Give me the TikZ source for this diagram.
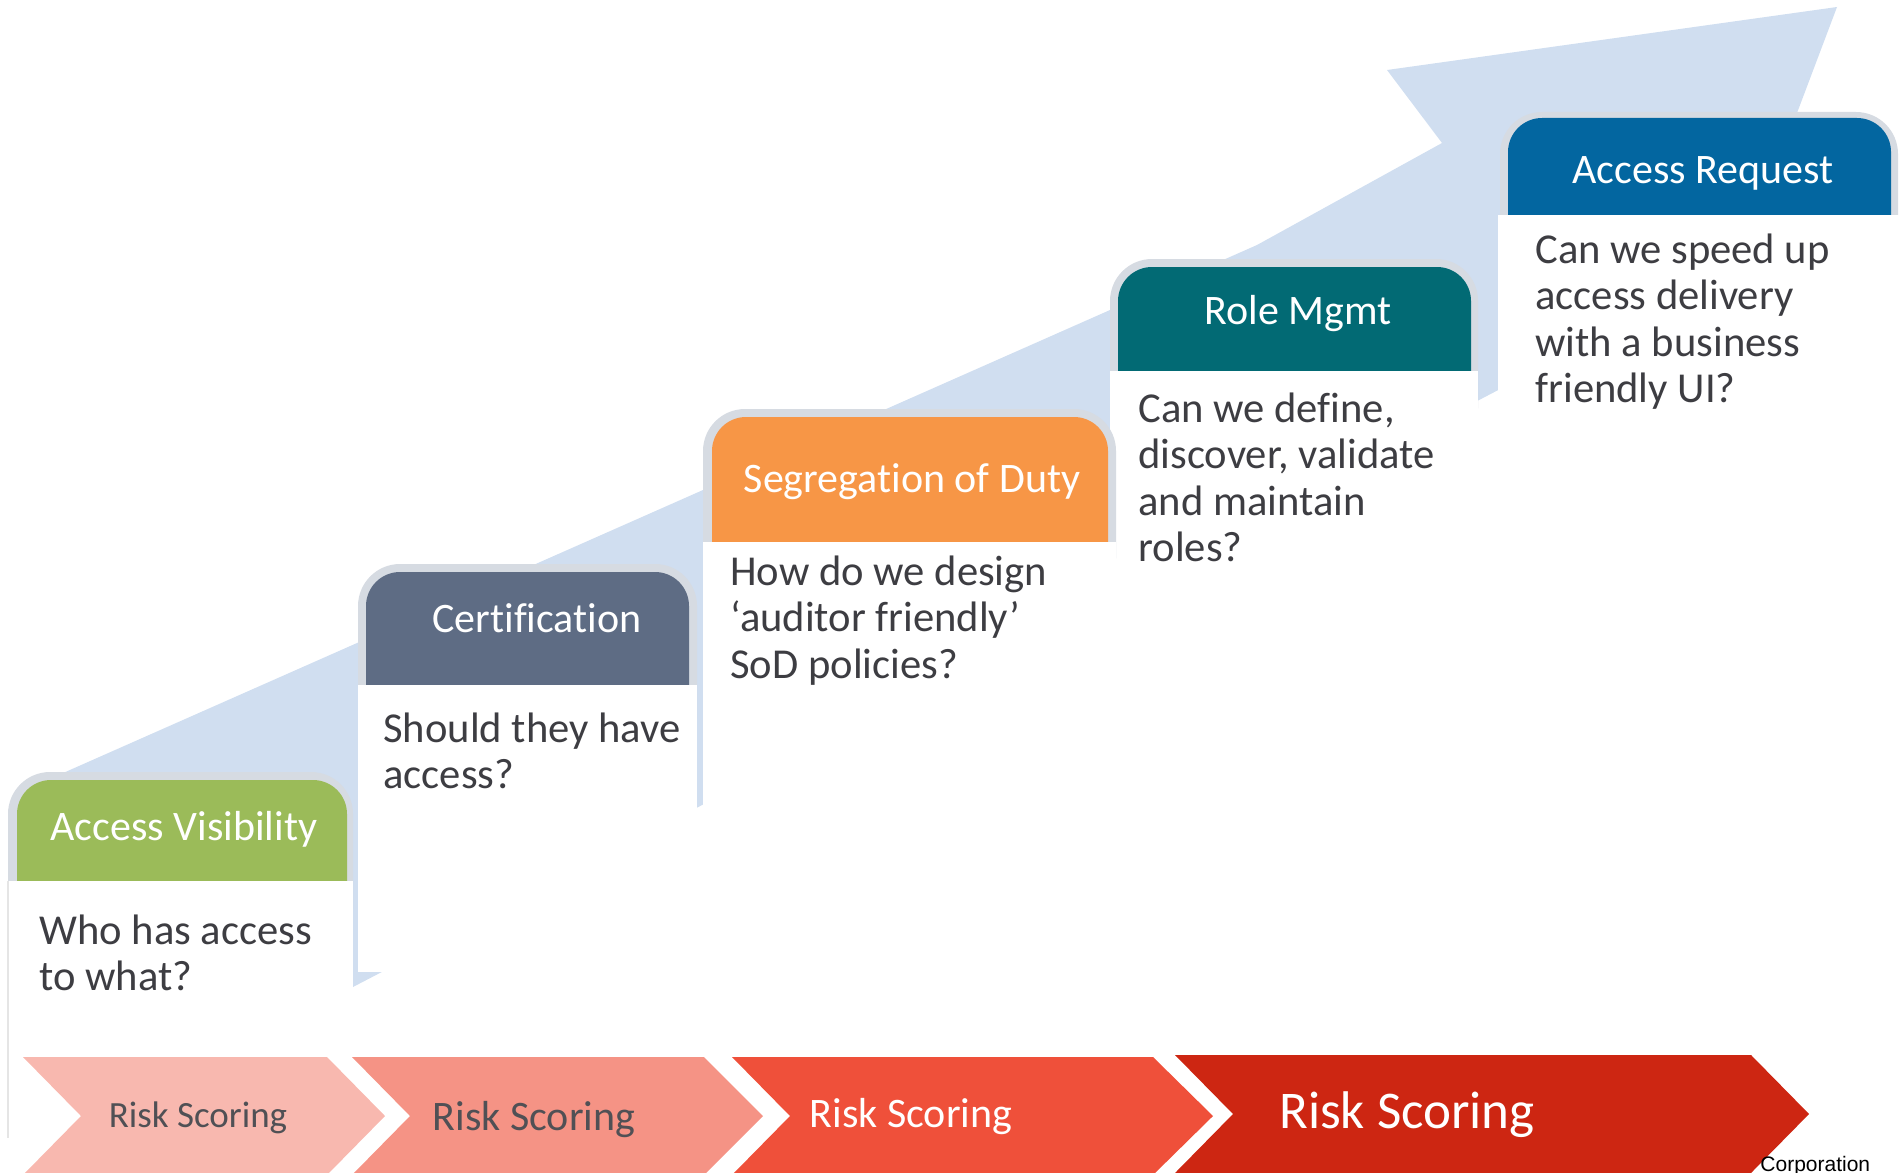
\documentclass[tikz,border=0pt]{standalone}
\usepackage{fontspec}
\setmainfont{Carlito}[Ligatures=CommonOff]
\newfontfamily\corpfont{Liberation Sans}

\definecolor{band}{HTML}{D0DEF0}
\definecolor{rimgray}{HTML}{D6DBE2}
\definecolor{avgreen}{HTML}{9BBB59}
\definecolor{certslate}{HTML}{5E6C84}
\definecolor{sodorange}{HTML}{F79646}
\definecolor{roleteal}{HTML}{026A74}
\definecolor{reqblue}{HTML}{0366A0}
\definecolor{qtext}{HTML}{3D3D42}
\definecolor{riskA}{HTML}{F8B8AF}
\definecolor{riskB}{HTML}{F59385}
\definecolor{riskC}{HTML}{EF503A}
\definecolor{riskD}{HTML}{CD2612}
\definecolor{risktext}{HTML}{505055}

\begin{document}
\begin{tikzpicture}[x=0.5pt, y=-0.5pt]
\tikzstyle{hd}=[text=white, inner sep=0, anchor=base, font=\fontsize{21pt}{24pt}\selectfont]
\tikzstyle{qs}=[text=qtext, inner sep=0, anchor=base west, align=flush left, text width=190pt, font=\fontsize{21.3pt}{23.3pt}\selectfont]
\tikzstyle{rk}=[inner sep=0, anchor=base]
\tikzstyle{rimbox}=[fill=rimgray, rounded corners=21pt]
\tikzstyle{hdbox}=[rounded corners=17pt]
\useasboundingbox (0,0) rectangle (1899,1172);

% rising arrow
\fill[band] (45,781) -- (1257,245) -- (1442,143) -- (1387,70) -- (1837,7)
  -- (1740,264) -- (353,987) -- (30,990) -- cycle;

% cards
\fill[rimbox] (8,772) rectangle (353,950);
\fill[hdbox, fill=avgreen] (17,780) rectangle (347,950);
\fill[white] (8,881) rectangle (353,1003);
\draw[black!10, line width=0.75pt] (8,881) -- (8,1138);

\fill[rimbox] (358,564) rectangle (697,760);
\fill[hdbox, fill=certslate] (366,572) rectangle (689,760);
\fill[white] (358,685) rectangle (697,972);

\fill[rimbox] (1110,259) rectangle (1478,450);
\fill[hdbox, fill=roleteal] (1118,267) rectangle (1471,450);
\fill[white] (1110,371) rectangle (1478,600);

\fill[rimbox] (703,409) rectangle (1116,600);
\fill[hdbox, fill=sodorange] (712,417) rectangle (1108,600);
\fill[white] (703,542) rectangle (1116,810);

\fill[rimbox] (1500,112) rectangle (1898,300);
\fill[hdbox, fill=reqblue] (1508,118) rectangle (1891,300);
\fill[white] (1498,215) rectangle (1899,430);

\node[hd] (avh)   at (184,840)  {Access Visibility};
\node[hd] (certh) at (537,632)  {Certification};
\node[hd] (sodh)  at (912,492)  {Segregation of Duty};
\node[hd] (roleh) at (1298,324) {Role Mgmt};
\node[hd] (reqh)  at (1703,183) {Access Request};

\node[qs] (avq)   at (39,944)   {Who has access\\to what?};
\node[qs] (certq) at (383,742)  {Should they have\\access?};
\node[qs] (sodq)  at (730,585)  {How do we design\\‘auditor friendly’\\SoD policies?};
\node[qs] (roleq) at (1138,422) {Can we define,\\discover, validate\\and maintain\\roles?};
\node[qs] (reqq)  at (1535,263) {Can we speed up\\access delivery\\with a business\\friendly UI?};

% risk chevrons
\fill[riskA] (23,1057) -- (327,1057) -- (385,1116) -- (327,1175) -- (23,1175) -- (81,1116) -- cycle;
\fill[riskB] (352,1057) -- (704,1057) -- (763,1116) -- (704,1175) -- (352,1175) -- (410,1116) -- cycle;
\fill[riskC] (732,1057) -- (1153,1057) -- (1213,1116) -- (1153,1175) -- (732,1175) -- (790,1116) -- cycle;
\fill[riskD] (1175,1055) -- (1751,1055) -- (1809,1114) -- (1751,1173) -- (1175,1173) -- (1233,1114) -- cycle;

\node[rk, text=risktext, font=\fontsize{18.5pt}{20pt}\selectfont] (risk1) at (198,1127)  {Risk Scoring};
\node[rk, text=risktext, font=\fontsize{21pt}{24pt}\selectfont]   (risk2) at (534,1130)  {Risk Scoring};
\node[rk, text=white, font=\fontsize{21pt}{24pt}\selectfont]      (risk3) at (911,1127)  {Risk Scoring};
\node[rk, text=white, font=\fontsize{26.5pt}{30pt}\selectfont]    (risk4) at (1407,1128) {Risk Scoring};

\node[inner sep=0, anchor=base west, font=\corpfont\fontsize{10.5pt}{12pt}\selectfont] (corp) at (1760,1171) {Corporation};
\end{tikzpicture}
\end{document}
